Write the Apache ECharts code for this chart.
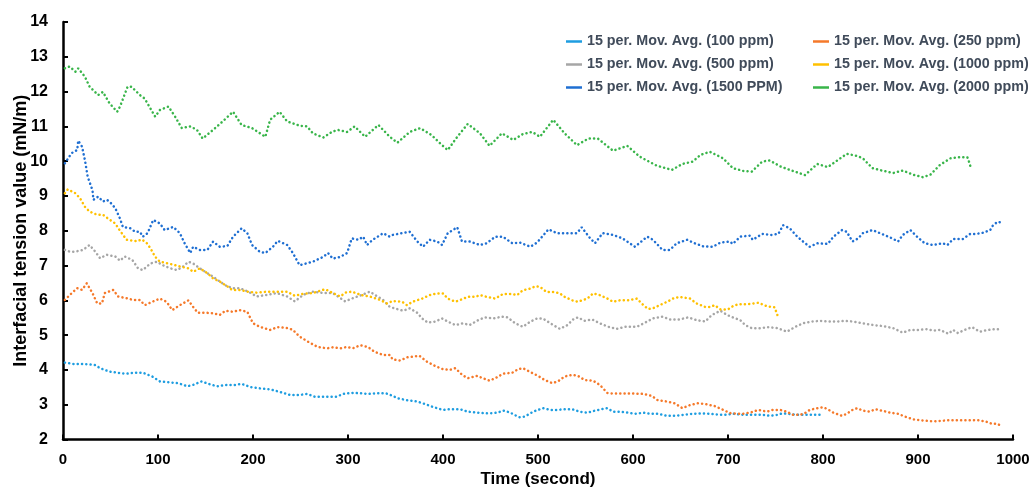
<!DOCTYPE html>
<html><head><meta charset="utf-8">
<script src="https://cdn.jsdelivr.net/npm/echarts@6/dist/echarts.min.js"></script>
<style>html,body{margin:0;padding:0;background:#fff}#c{width:1034px;height:491px}</style>
</head><body><div id="c"></div>
<script>
const seriesNames = ['15 per. Mov. Avg. (100 ppm)', '15 per. Mov. Avg. (250 ppm)', '15 per. Mov. Avg. (500 ppm)', '15 per. Mov. Avg. (1000 ppm)', '15 per. Mov. Avg. (1500 PPM)', '15 per. Mov. Avg. (2000 ppm)'];
const seriesColors = ['#1E9DE0', '#F5792A', '#A6A6A6', '#FFC000', '#1F6FD2', '#39B54A'];
const xAxisTitle = 'Time (second)';
const yAxisTitle = 'Interfacial tension value (mN/m)';

// [time (s), IFT (mN/m)]
const s100 = [[2,4.21],[11,4.17],[23,4.17],[34,4.14],[39,4.05],[49,3.95],[60,3.91],[67,3.89],[74,3.92],[84,3.92],[94,3.81],[102,3.67],[113,3.64],[121,3.62],[131,3.53],[137,3.57],[146,3.67],[153,3.60],[162,3.53],[173,3.57],[181,3.57],[188,3.60],[197,3.51],[207,3.47],[218,3.44],[228,3.37],[239,3.28],[249,3.28],[257,3.31],[265,3.23],[274,3.23],[283,3.23],[288,3.23],[295,3.31],[304,3.34],[313,3.33],[321,3.31],[331,3.33],[339,3.33],[342,3.31],[353,3.18],[362,3.13],[373,3.09],[381,3.02],[389,2.94],[400,2.85],[407,2.87],[418,2.87],[426,2.80],[437,2.77],[447,2.75],[457,2.77],[464,2.83],[471,2.77],[480,2.64],[486,2.66],[495,2.80],[505,2.90],[513,2.85],[520,2.85],[528,2.87],[536,2.87],[544,2.80],[552,2.77],[560,2.83],[567,2.87],[573,2.90],[579,2.80],[586,2.80],[595,2.77],[602,2.74],[611,2.77],[618,2.74],[626,2.74],[636,2.68],[644,2.68],[653,2.71],[663,2.74],[673,2.75],[681,2.74],[692,2.71],[699,2.71],[705,2.74],[716,2.71],[726,2.71],[737,2.71],[744,2.68],[752,2.71],[757,2.75],[763,2.74],[773,2.71],[781,2.71],[789,2.71],[797,2.71]];

const s250 = [[2,6.01],[7,6.15],[15,6.35],[20,6.30],[25,6.49],[31,6.21],[36,5.91],[41,5.91],[44,6.21],[53,6.30],[58,6.11],[67,6.06],[74,6.01],[81,6.01],[86,5.86],[94,5.96],[102,6.05],[109,5.96],[115,5.72],[123,5.86],[132,6.00],[137,5.81],[142,5.64],[152,5.64],[158,5.63],[165,5.58],[171,5.70],[179,5.67],[186,5.72],[194,5.67],[200,5.34],[207,5.24],[218,5.15],[226,5.23],[237,5.20],[242,5.15],[249,4.96],[258,4.81],[268,4.66],[278,4.62],[284,4.65],[292,4.62],[299,4.66],[305,4.62],[313,4.71],[321,4.66],[328,4.52],[337,4.43],[344,4.43],[347,4.30],[355,4.27],[362,4.36],[368,4.38],[375,4.41],[383,4.24],[392,4.11],[400,4.02],[407,4.00],[413,4.05],[420,3.86],[426,3.76],[436,3.83],[442,3.76],[449,3.69],[457,3.79],[463,3.89],[473,3.92],[479,4.02],[484,4.05],[494,3.91],[500,3.83],[507,3.71],[515,3.62],[521,3.67],[528,3.81],[536,3.86],[542,3.83],[549,3.71],[558,3.69],[565,3.57],[573,3.34],[579,3.32],[589,3.32],[600,3.32],[611,3.31],[620,3.25],[626,3.13],[636,3.09],[644,3.04],[652,2.90],[660,2.99],[668,3.04],[676,3.02],[686,2.96],[695,2.85],[702,2.76],[709,2.74],[716,2.74],[723,2.77],[732,2.85],[741,2.80],[747,2.85],[755,2.85],[762,2.80],[768,2.71],[776,2.71],[781,2.76],[786,2.85],[794,2.90],[800,2.93],[805,2.87],[811,2.77],[820,2.68],[825,2.74],[831,2.85],[836,2.90],[842,2.83],[849,2.80],[855,2.87],[862,2.83],[871,2.77],[879,2.74],[886,2.66],[895,2.58],[904,2.55],[916,2.52],[931,2.55],[942,2.55],[955,2.55],[962,2.56],[971,2.52],[978,2.45],[984,2.45],[988,2.37]];

const s500 = [[2,7.45],[7,7.40],[13,7.40],[21,7.45],[28,7.59],[34,7.40],[39,7.21],[46,7.31],[55,7.26],[60,7.14],[65,7.26],[73,7.16],[79,6.92],[84,6.87],[92,7.06],[99,7.11],[105,7.01],[113,6.92],[120,6.87],[126,6.96],[132,7.11],[137,7.06],[144,6.92],[152,6.78],[158,6.68],[165,6.54],[173,6.40],[179,6.35],[186,6.35],[195,6.25],[204,6.11],[215,6.16],[225,6.21],[236,6.11],[244,5.97],[253,6.16],[263,6.25],[274,6.21],[284,6.21],[297,5.97],[305,6.06],[315,6.16],[323,6.25],[331,6.11],[337,6.01],[344,5.81],[349,5.77],[358,5.70],[365,5.77],[373,5.64],[378,5.48],[384,5.36],[392,5.39],[399,5.48],[405,5.39],[413,5.29],[421,5.34],[428,5.29],[437,5.43],[444,5.51],[453,5.48],[462,5.53],[468,5.51],[476,5.34],[484,5.24],[492,5.39],[499,5.48],[505,5.48],[516,5.29],[523,5.18],[531,5.29],[537,5.45],[542,5.51],[549,5.41],[557,5.45],[565,5.34],[574,5.24],[583,5.18],[592,5.24],[604,5.24],[615,5.39],[621,5.48],[631,5.53],[639,5.45],[649,5.45],[658,5.51],[667,5.43],[676,5.39],[683,5.58],[692,5.70],[699,5.58],[705,5.51],[713,5.43],[718,5.29],[725,5.20],[734,5.20],[742,5.23],[752,5.20],[762,5.10],[771,5.24],[779,5.34],[788,5.39],[797,5.41],[805,5.39],[815,5.39],[823,5.41],[832,5.39],[842,5.34],[853,5.29],[863,5.26],[874,5.20],[884,5.07],[892,5.15],[900,5.15],[909,5.17],[916,5.13],[923,5.15],[932,5.04],[937,5.15],[942,5.06],[949,5.15],[957,5.23],[965,5.10],[974,5.15],[981,5.17],[988,5.17]];

const s1000 = [[2,9.08],[5,9.19],[13,9.08],[18,8.93],[23,8.69],[28,8.55],[36,8.46],[42,8.46],[49,8.32],[55,8.21],[60,8.00],[67,7.74],[78,7.70],[83,7.75],[88,7.65],[92,7.50],[97,7.25],[102,7.11],[111,7.06],[118,7.01],[125,6.96],[132,6.92],[137,6.82],[144,6.92],[152,6.78],[158,6.63],[165,6.54],[173,6.40],[178,6.30],[186,6.30],[194,6.25],[204,6.22],[215,6.25],[225,6.25],[236,6.25],[244,6.13],[253,6.19],[263,6.21],[276,6.32],[284,6.21],[292,6.11],[297,6.22],[304,6.25],[313,6.16],[323,6.11],[334,6.01],[341,5.91],[347,5.98],[357,5.96],[362,5.86],[368,5.96],[378,6.05],[386,6.15],[394,6.20],[400,6.20],[405,6.05],[413,5.96],[420,6.03],[426,6.10],[434,6.10],[439,6.15],[446,6.10],[455,6.05],[463,6.18],[473,6.18],[478,6.15],[484,6.29],[492,6.34],[497,6.40],[502,6.39],[509,6.24],[516,6.24],[523,6.20],[528,6.10],[536,6.00],[542,5.96],[552,6.05],[558,6.20],[565,6.15],[573,6.05],[579,5.96],[586,6.00],[595,6.00],[604,6.05],[611,5.86],[616,5.75],[621,5.77],[628,5.86],[636,5.96],[642,6.05],[649,6.10],[660,6.05],[667,5.91],[676,5.81],[681,5.81],[686,5.86],[692,5.74],[700,5.74],[705,5.83],[711,5.89],[721,5.89],[732,5.93],[741,5.83],[749,5.80],[752,5.58]];

const s1500 = [[2,9.94],[9,10.23],[15,10.32],[16,10.59],[20,10.42],[23,10.04],[26,9.55],[31,9.17],[32,8.89],[37,8.98],[42,8.84],[46,8.89],[49,8.84],[55,8.65],[60,8.35],[63,8.11],[71,8.07],[76,7.97],[81,7.97],[84,7.83],[89,7.93],[95,8.31],[102,8.21],[107,8.02],[116,8.11],[123,7.93],[128,7.64],[134,7.36],[137,7.54],[144,7.45],[152,7.45],[158,7.69],[165,7.54],[173,7.56],[179,7.83],[188,8.07],[194,7.93],[199,7.59],[207,7.40],[213,7.36],[221,7.54],[226,7.71],[236,7.59],[242,7.36],[249,7.01],[263,7.11],[274,7.25],[279,7.36],[284,7.20],[292,7.25],[299,7.36],[304,7.78],[311,7.74],[316,7.83],[320,7.59],[326,7.74],[337,7.93],[344,7.83],[347,7.88],[357,7.93],[365,7.97],[373,7.69],[379,7.54],[386,7.74],[394,7.69],[399,7.59],[405,7.93],[415,8.10],[420,7.69],[428,7.69],[439,7.59],[446,7.64],[455,7.83],[463,7.83],[473,7.64],[481,7.66],[492,7.54],[499,7.66],[511,8.04],[520,7.93],[531,7.93],[541,7.93],[546,8.10],[555,7.78],[560,7.64],[568,7.93],[579,7.88],[589,7.78],[602,7.54],[615,7.83],[621,7.74],[631,7.45],[639,7.45],[646,7.64],[657,7.74],[665,7.64],[674,7.55],[684,7.54],[692,7.66],[702,7.69],[705,7.62],[713,7.83],[723,7.86],[726,7.74],[736,7.91],[746,7.88],[753,7.91],[758,8.16],[765,8.07],[773,7.83],[779,7.69],[786,7.54],[794,7.64],[805,7.62],[811,7.83],[820,8.02],[825,7.97],[831,7.69],[837,7.78],[842,7.93],[852,8.02],[860,7.93],[873,7.78],[879,7.69],[884,7.88],[892,8.02],[899,7.83],[907,7.64],[916,7.59],[926,7.64],[931,7.59],[937,7.76],[947,7.76],[955,7.91],[962,7.91],[968,7.94],[976,8.02],[979,8.16],[984,8.26],[988,8.23]];

const s2000 = [[2,12.67],[7,12.72],[13,12.57],[16,12.67],[23,12.43],[28,12.14],[37,11.90],[42,11.99],[49,11.66],[57,11.42],[60,11.57],[68,12.14],[72,12.14],[81,11.90],[86,11.80],[97,11.28],[102,11.47],[111,11.57],[118,11.28],[125,10.95],[134,11.00],[141,10.90],[147,10.65],[158,10.90],[168,11.14],[179,11.42],[188,11.04],[199,10.95],[213,10.70],[218,11.19],[228,11.42],[236,11.14],[249,11.02],[257,11.00],[263,10.80],[274,10.68],[283,10.84],[289,10.90],[299,10.84],[307,11.00],[318,10.70],[332,11.04],[344,10.70],[352,10.53],[365,10.84],[376,10.95],[388,10.75],[399,10.46],[405,10.32],[415,10.70],[426,11.07],[439,10.80],[449,10.44],[462,10.80],[474,10.61],[484,10.78],[494,10.84],[502,10.70],[516,11.19],[528,10.80],[541,10.46],[553,10.65],[563,10.65],[579,10.30],[594,10.44],[607,10.13],[625,9.87],[641,9.75],[652,9.92],[663,9.99],[671,10.18],[681,10.27],[695,10.08],[705,9.80],[716,9.72],[725,9.70],[736,9.99],[744,10.02],[755,9.85],[765,9.75],[781,9.60],[794,9.92],[805,9.83],[816,10.04],[825,10.21],[836,10.15],[842,10.08],[852,9.80],[862,9.73],[874,9.66],[884,9.73],[895,9.61],[905,9.54],[913,9.61],[923,9.89],[934,10.08],[942,10.11],[952,10.11],[954,9.96],[956,9.77]];

const seriesData = [s100, s250, s500, s1000, s1500, s2000];

const chart = echarts.init(document.getElementById('c'), null, {renderer: 'canvas'});
const FONT = "'Liberation Sans', Arial, sans-serif";
const legendText = {fontFamily: FONT, fontWeight: 'bold', fontSize: 14.3, color: '#404B5A', lineHeight: 15};

chart.setOption({
  animation: false,
  backgroundColor: '#ffffff',
  grid: {left: 63, right: 21, top: 22, bottom: 51.5, containLabel: false, outerBoundsMode: 'none'},
  legend: [
    {data: [seriesNames[0], seriesNames[2], seriesNames[4]], orient: 'vertical', left: 566, top: 34, itemGap: 8, itemWidth: 16, itemHeight: 2.5, icon: 'rect', padding: 0, textStyle: legendText},
    {data: [seriesNames[1], seriesNames[3], seriesNames[5]], orient: 'vertical', left: 813, top: 34, itemGap: 8, itemWidth: 16, itemHeight: 2.5, icon: 'rect', padding: 0, textStyle: legendText}
  ],
  xAxis: {
    type: 'value', min: 0, max: 1000, interval: 100,
    name: xAxisTitle, nameLocation: 'middle', nameGap: 31, nameMoveOverlap: false,
    nameTextStyle: {fontFamily: FONT, fontWeight: 'bold', fontSize: 17, color: '#000'},
    axisLine: {show: true, lineStyle: {color: '#000', width: 2.5}},
    axisTick: {show: true, inside: true, length: 5, lineStyle: {color: '#000', width: 2}},
    axisLabel: {fontFamily: FONT, fontWeight: 'bold', fontSize: 15, color: '#000', margin: 13, formatter: v => String(v)},
    splitLine: {show: false}
  },
  yAxis: {
    type: 'value', min: 2, max: 14, interval: 1,
    name: yAxisTitle, nameLocation: 'middle', nameGap: 33, nameMoveOverlap: false,
    nameTextStyle: {fontFamily: FONT, fontWeight: 'bold', fontSize: 18, color: '#000'},
    axisLine: {show: true, lineStyle: {color: '#000', width: 2.5}},
    axisTick: {show: true, inside: true, length: 5, lineStyle: {color: '#000', width: 2}},
    axisLabel: {fontFamily: FONT, fontWeight: 'bold', fontSize: 16, color: '#000', margin: 15, formatter: v => String(v)},
    splitLine: {show: false}
  },
  series: seriesNames.map((n, i) => ({
    type: 'line', name: n, data: seriesData[i],
    symbol: 'none', showSymbol: false, smooth: false,
    itemStyle: {color: seriesColors[i]},
    lineStyle: {color: seriesColors[i], width: 2.5, type: [0.1, 4.2], cap: 'round'},
    emphasis: {disabled: true}
  }))
});
</script></body></html>
